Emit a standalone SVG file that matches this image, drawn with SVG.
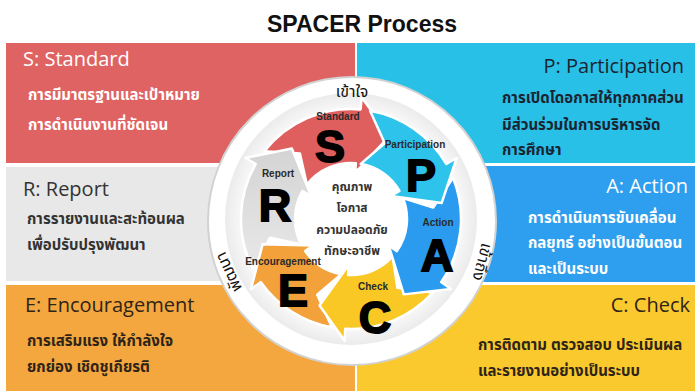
<svg xmlns="http://www.w3.org/2000/svg" width="695" height="391" viewBox="0 0 695 391">
<defs>
<style>
.hd{font-family:"Open Sans","Noto Sans",sans-serif;font-size:20px}
.th{font-family:"Noto Sans Thai","Noto Sans","DejaVu Sans",sans-serif;font-size:15px;font-weight:bold}
.big{font-family:"Liberation Sans",Arial,sans-serif;font-weight:bold;font-size:45px;fill:#000;stroke:#000;stroke-width:1.8;text-anchor:middle}
.lbl{font-family:"Liberation Sans",Arial,sans-serif;font-weight:bold;font-size:10px;fill:#2a2a2a;text-anchor:middle}
.ctr{font-family:"Noto Sans Thai","Noto Sans","DejaVu Sans",sans-serif;font-size:12px;font-weight:bold;fill:#333;text-anchor:middle}
.ring{font-family:"Noto Sans Thai","Noto Sans","DejaVu Sans",sans-serif;font-size:16px;fill:#111;text-anchor:middle}
.arr{stroke:#fff;stroke-width:2.5;stroke-linejoin:round}
</style>
<radialGradient id="rg" cx="0.5" cy="0.5" r="0.5">
<stop offset="0.8" stop-color="#ffffff"/>
<stop offset="1" stop-color="#ebebeb"/>
</radialGradient>
<linearGradient id="gg" x1="0" y1="0" x2="0" y2="1">
<stop offset="0" stop-color="#d4d4d4"/>
<stop offset="1" stop-color="#e8e8e8"/>
</linearGradient>
</defs>
<rect width="695" height="391" fill="#fff"/>
<text x="362" y="32" font-family="Liberation Sans,Arial,sans-serif" font-weight="bold" font-size="23" fill="#111" text-anchor="middle">SPACER Process</text>

<g id="panel-s">
<rect x="6" y="43" width="349" height="120" fill="#E06363"/>
<text class="hd" x="23" y="66" fill="#fff">S: Standard</text>
<text class="th" x="28" y="100" fill="#fff" font-size="14">การมีมาตรฐานและเป้าหมาย</text>
<text class="th" x="28" y="130" fill="#fff" font-size="14">การดำเนินงานที่ชัดเจน</text>
</g>
<g id="panel-p">
<rect x="357" y="43" width="338" height="120" fill="#29C0E7"/>
<text class="hd" x="684" y="73" fill="#1b2430" text-anchor="end">P: Participation</text>
<text class="th" x="502" y="103" fill="#1b2430">การเปิดโดอกาสให้ทุกภาคส่วน</text>
<text class="th" x="502" y="130" fill="#1b2430">มีส่วนร่วมในการบริหารจัด</text>
<text class="th" x="502" y="155" fill="#1b2430">การศึกษา</text>
</g>
<g id="panel-r">
<rect x="6" y="167" width="349" height="114" fill="#E8E8E8"/>
<text class="hd" x="23" y="196" fill="#333">R: Report</text>
<text class="th" x="27" y="224" fill="#333">การรายงานและสะท้อนผล</text>
<text class="th" x="27" y="250" fill="#333">เพื่อปรับปรุงพัฒนา</text>
</g>
<g id="panel-a">
<rect x="357" y="166" width="338" height="116" fill="#2E9EEE"/>
<text class="hd" x="688" y="193" fill="#fff" text-anchor="end">A: Action</text>
<text class="th" x="528" y="223" fill="#fff">การดำเนินการขับเคลื่อน</text>
<text class="th" x="528" y="248" fill="#fff">กลยุทธ์ อย่างเป็นขั้นตอน</text>
<text class="th" x="528" y="274" fill="#fff">และเป็นระบบ</text>
</g>
<g id="panel-e">
<rect x="6" y="285" width="349" height="106" fill="#F4A73F"/>
<text class="hd" x="25" y="312" fill="#2e2418">E: Encouragement</text>
<text class="th" x="27" y="346" fill="#2e2418">การเสริมแรง ให้กำลังใจ</text>
<text class="th" x="27" y="372" fill="#2e2418">ยกย่อง เชิดชูเกียรติ</text>
</g>
<g id="panel-c">
<rect x="357" y="285" width="338" height="106" fill="#FAC92E"/>
<text class="hd" x="690" y="312" fill="#2e2418" text-anchor="end">C: Check</text>
<text class="th" x="478" y="350" fill="#2e2418" font-size="15.5">การติดตาม ตรวจสอบ ประเมินผล</text>
<text class="th" x="478" y="376" fill="#2e2418" font-size="15.5">และรายงานอย่างเป็นระบบ</text>
</g>

<g id="wheel">
<circle cx="352" cy="221" r="144" fill="#fff" stroke="#d2d2d2" stroke-width="2"/>
<circle cx="351" cy="219" r="126" fill="url(#rg)"/>
<text class="ring" x="352" y="97">เข้าใจ</text>
<text class="ring" transform="translate(482,262) rotate(105)" y="5">เข้าถึง</text>
<text class="ring" transform="translate(229,272) rotate(-115)" y="5">พัฒนา</text>
</g>

<g id="connectors">
<path id="arrow-s" class="arr" fill="#DF5F5F" d="M264.32,151.27 A110,110 0 0 1 360.59,109.42 L361.64,97.46 L389.88,135.62 L355.01,173.17 L355.88,163.21 A56,56 0 0 0 306.87,184.52 L299.90,153.60 Z"/>
<path id="arrow-r" class="arr" fill="url(#gg)" d="M252.99,268.94 A110,110 0 0 1 255.74,164 L245.35,158 L291.86,148.53 L311.16,196 L302.50,191 A56,56 0 0 0 301.10,244.42 L270.12,237.68 Z"/>
<path id="arrow-e" class="arr" fill="#F2A13B" d="M331.90,327.33 A110,110 0 0 1 260.89,282.10 L251.06,288.98 L262.56,244.36 L313.32,245.39 L305.12,251.12 A56,56 0 0 0 341.28,274.15 L317.24,294.82 Z"/>
<path id="arrow-c" class="arr" fill="#F9C824" d="M432.74,292.60 A110,110 0 0 1 345.25,328.85 L344.62,340.83 L319.54,305.45 L348.59,264.94 L348.07,274.92 A56,56 0 0 0 392.61,256.47 L397.41,287.81 Z"/>
<path id="arrow-a" class="arr" fill="#2A9BEF" d="M452.99,177.79 A110,110 0 0 1 441.11,282.10 L450.94,288.98 L403.77,294.37 L388.68,245.39 L396.88,251.12 A56,56 0 0 0 402.92,198.02 L433.19,207.45 Z"/>
<path id="arrow-p" class="arr" fill="#2EC3EA" d="M370.10,110.67 A110,110 0 0 1 446.26,164 L456.65,158 L441.60,203.03 L390.84,196 L399.50,191 A56,56 0 0 0 360.72,163.85 L384.76,143.18 Z"/>
</g>

<g id="hub">
<circle cx="351" cy="217" r="49" fill="#fff"/>
<text class="ctr" x="352" y="191">คุณภาพ</text>
<text class="ctr" x="352" y="212">โอกาส</text>
<text class="ctr" x="352" y="234">ความปลอดภัย</text>
<text class="ctr" x="352" y="255">ทักษะอาชีพ</text>
</g>

<g id="node-s"><text class="lbl" x="338" y="120">Standard</text><text class="big" x="330" y="162">S</text></g>
<g id="node-p"><text class="lbl" x="415" y="148">Participation</text><text class="big" x="421" y="191">P</text></g>
<g id="node-a"><text class="lbl" x="438" y="226">Action</text><text class="big" x="437" y="271">A</text></g>
<g id="node-c"><text class="lbl" x="373" y="290">Check</text><text class="big" x="375" y="333">C</text></g>
<g id="node-e"><text class="lbl" x="283" y="265" font-size="10.5">Encouragement</text><text class="big" x="293" y="306">E</text></g>
<g id="node-r"><text class="lbl" x="278" y="177">Report</text><text class="big" x="275" y="221">R</text></g>
</svg>
